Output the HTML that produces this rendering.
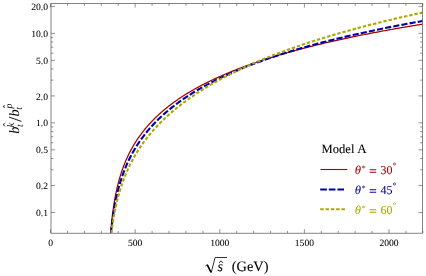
<!DOCTYPE html>
<html><head><meta charset="utf-8"><title>plot</title>
<style>html,body{margin:0;padding:0;background:#fff}svg{display:block}text{font-family:"Liberation Serif",serif}</style></head>
<body>
<svg width="426" height="276" viewBox="0 0 426 276" text-rendering="geometricPrecision">
<rect width="426" height="276" fill="#fff"/>
<defs><filter id="bl" x="-5%" y="-5%" width="110%" height="110%"><feGaussianBlur stdDeviation="0.35"/></filter></defs>
<defs><clipPath id="c"><rect x="51.0" y="3.55" width="371.50" height="229.65"/></clipPath></defs>
<g filter="url(#bl)">
<g clip-path="url(#c)" fill="none">
<path d="M110.50,235.19 L110.60,233.87 L110.70,232.59 L110.80,231.34 L110.90,230.14 L111.00,228.97 L111.10,227.83 L111.20,226.73 L111.30,225.65 L111.40,224.60 L111.50,223.58 L111.60,222.58 L111.70,221.61 L111.80,220.66 L111.90,219.73 L112.00,218.82 L112.10,217.93 L112.20,217.06 L112.30,216.21 L112.40,215.37 L112.50,214.55 L112.60,213.75 L112.70,212.96 L112.80,212.19 L112.90,211.43 L113.00,210.69 L113.10,209.96 L113.20,209.24 L113.30,208.53 L113.40,207.84 L113.50,207.15 L113.60,206.48 L113.70,205.82 L113.80,205.17 L113.90,204.52 L114.00,203.89 L114.10,203.27 L114.20,202.66 L114.30,202.05 L114.40,201.45 L114.50,200.87 L114.60,200.29 L114.70,199.72 L114.80,199.15 L114.90,198.59 L115.00,198.04 L115.10,197.50 L115.20,196.97 L115.30,196.44 L115.40,195.91 L115.50,195.40 L115.60,194.89 L115.70,194.38 L115.80,193.89 L115.90,193.39 L116.00,192.91 L116.10,192.43 L116.20,191.95 L116.30,191.48 L116.40,191.01 L116.50,190.55 L116.60,190.10 L116.70,189.65 L116.80,189.20 L116.90,188.76 L117.00,188.32 L117.10,187.89 L117.20,187.46 L117.30,187.04 L117.40,186.62 L117.50,186.20 L117.60,185.79 L117.70,185.38 L117.80,184.97 L117.90,184.57 L118.00,184.18 L118.10,183.78 L118.20,183.39 L118.30,183.01 L118.40,182.62 L118.50,182.24 L118.60,181.87 L118.70,181.49 L118.80,181.12 L118.90,180.75 L119.00,180.39 L119.10,180.03 L119.20,179.67 L119.30,179.32 L119.40,178.96 L119.50,178.61 L119.60,178.27 L119.70,177.92 L119.80,177.58 L119.90,177.24 L120.00,176.91 L120.10,176.57 L120.20,176.24 L120.30,175.91 L120.40,175.58 L120.50,175.26 L120.60,174.94 L120.70,174.62 L120.80,174.30 L120.90,173.99 L121.00,173.67 L121.10,173.36 L121.20,173.06 L121.30,172.75 L121.40,172.44 L121.50,172.14 L121.60,171.84 L121.70,171.54 L121.80,171.25 L121.90,170.95 L122.00,170.66 L122.10,170.37 L122.20,170.08 L122.30,169.80 L122.40,169.51 L122.50,169.23 L122.60,168.95 L122.70,168.67 L122.80,168.39 L122.90,168.11 L123.00,167.84 L123.10,167.56 L123.20,167.29 L123.30,167.02 L123.40,166.76 L123.50,166.49 L123.60,166.22 L123.70,165.96 L123.80,165.70 L123.90,165.44 L124.00,165.18 L124.10,164.92 L124.20,164.67 L124.30,164.41 L124.40,164.16 L124.50,163.91 L124.60,163.66 L124.70,163.41 L124.80,163.16 L124.90,162.91 L125.00,162.67 L125.38,161.76 L125.75,160.87 L126.12,160.00 L126.50,159.14 L126.88,158.30 L127.25,157.47 L127.62,156.66 L128.00,155.86 L128.38,155.08 L128.75,154.30 L129.12,153.54 L129.50,152.80 L129.88,152.06 L130.25,151.34 L130.62,150.62 L131.00,149.92 L131.38,149.23 L131.75,148.54 L132.12,147.87 L132.50,147.21 L132.88,146.55 L133.25,145.90 L133.62,145.27 L134.00,144.64 L134.38,144.02 L134.75,143.40 L135.12,142.80 L135.50,142.20 L135.88,141.61 L136.25,141.02 L136.62,140.45 L137.00,139.88 L137.38,139.31 L137.75,138.76 L138.12,138.21 L138.50,137.66 L138.88,137.12 L139.25,136.59 L139.62,136.06 L140.00,135.54 L140.38,135.02 L140.75,134.51 L141.12,134.01 L141.50,133.51 L141.88,133.01 L142.25,132.52 L142.62,132.03 L143.00,131.55 L143.38,131.08 L143.75,130.60 L144.12,130.14 L144.50,129.67 L144.88,129.21 L145.25,128.76 L145.62,128.31 L146.00,127.86 L146.38,127.42 L146.75,126.98 L147.12,126.54 L147.50,126.11 L147.88,125.68 L148.25,125.26 L148.62,124.84 L149.00,124.42 L149.38,124.00 L149.75,123.59 L150.12,123.19 L150.50,122.78 L150.88,122.38 L151.25,121.98 L151.62,121.59 L152.00,121.20 L152.38,120.81 L152.75,120.42 L153.12,120.04 L153.50,119.66 L153.88,119.28 L154.25,118.91 L154.62,118.53 L155.00,118.17 L155.38,117.80 L155.75,117.44 L156.12,117.07 L156.50,116.71 L156.88,116.36 L157.25,116.00 L157.62,115.65 L158.00,115.30 L158.38,114.96 L158.75,114.61 L159.12,114.27 L159.50,113.93 L159.88,113.59 L160.25,113.26 L160.62,112.92 L161.00,112.59 L161.38,112.26 L161.75,111.93 L162.12,111.61 L162.50,111.29 L162.88,110.96 L163.25,110.65 L163.62,110.33 L164.00,110.01 L164.38,109.70 L164.75,109.39 L165.12,109.08 L165.50,108.77 L165.88,108.46 L166.25,108.16 L166.62,107.86 L167.00,107.56 L167.38,107.26 L167.75,106.96 L168.12,106.66 L168.50,106.37 L168.88,106.08 L169.25,105.79 L169.62,105.50 L170.00,105.21 L171.16,104.33 L172.32,103.47 L173.47,102.62 L174.63,101.78 L175.79,100.96 L176.95,100.15 L178.10,99.35 L179.26,98.56 L180.42,97.79 L181.58,97.02 L182.73,96.27 L183.89,95.53 L185.05,94.80 L186.21,94.08 L187.36,93.36 L188.52,92.66 L189.68,91.97 L190.84,91.28 L191.99,90.60 L193.15,89.94 L194.31,89.28 L195.47,88.63 L196.62,87.98 L197.78,87.35 L198.94,86.72 L200.10,86.10 L201.25,85.48 L202.41,84.88 L203.57,84.28 L204.73,83.68 L205.88,83.10 L207.04,82.52 L208.20,81.94 L209.36,81.37 L210.51,80.81 L211.67,80.26 L212.83,79.71 L213.99,79.16 L215.14,78.62 L216.30,78.09 L217.46,77.56 L218.62,77.04 L219.77,76.52 L220.93,76.01 L222.09,75.50 L223.25,74.99 L224.40,74.50 L225.56,74.00 L226.72,73.51 L227.88,73.03 L229.03,72.55 L230.19,72.07 L231.35,71.60 L232.51,71.13 L233.66,70.67 L234.82,70.21 L235.98,69.75 L237.14,69.30 L238.29,68.85 L239.45,68.41 L240.61,67.97 L241.77,67.53 L242.92,67.10 L244.08,66.67 L245.24,66.24 L246.40,65.82 L247.55,65.40 L248.71,64.98 L249.87,64.57 L251.03,64.16 L252.18,63.75 L253.34,63.35 L254.50,62.95 L255.66,62.55 L256.82,62.16 L257.97,61.76 L259.13,61.38 L260.29,60.99 L261.45,60.61 L262.60,60.23 L263.76,59.85 L264.92,59.47 L266.08,59.10 L267.23,58.73 L268.39,58.37 L269.55,58.00 L270.71,57.64 L271.86,57.28 L273.02,56.92 L274.18,56.57 L275.34,56.22 L276.49,55.87 L277.65,55.52 L278.81,55.18 L279.97,54.83 L281.12,54.49 L282.28,54.16 L283.44,53.82 L284.60,53.49 L285.75,53.15 L286.91,52.82 L288.07,52.50 L289.23,52.17 L290.38,51.85 L291.54,51.53 L292.70,51.21 L293.86,50.89 L295.01,50.57 L296.17,50.26 L297.33,49.95 L298.49,49.64 L299.64,49.33 L300.80,49.03 L301.96,48.72 L303.12,48.42 L304.27,48.12 L305.43,47.82 L306.59,47.52 L307.75,47.23 L308.90,46.93 L310.06,46.64 L311.22,46.35 L312.38,46.06 L313.53,45.77 L314.69,45.49 L315.85,45.20 L317.01,44.92 L318.16,44.64 L319.32,44.36 L320.48,44.08 L321.64,43.81 L322.79,43.53 L323.95,43.26 L325.11,42.99 L326.27,42.72 L327.42,42.45 L328.58,42.18 L329.74,41.91 L330.90,41.65 L332.05,41.38 L333.21,41.12 L334.37,40.86 L335.53,40.60 L336.68,40.34 L337.84,40.09 L339.00,39.83 L340.16,39.58 L341.32,39.32 L342.47,39.07 L343.63,38.82 L344.79,38.57 L345.95,38.32 L347.10,38.08 L348.26,37.83 L349.42,37.59 L350.58,37.34 L351.73,37.10 L352.89,36.86 L354.05,36.62 L355.21,36.38 L356.36,36.15 L357.52,35.91 L358.68,35.67 L359.84,35.44 L360.99,35.21 L362.15,34.97 L363.31,34.74 L364.47,34.51 L365.62,34.28 L366.78,34.06 L367.94,33.83 L369.10,33.60 L370.25,33.38 L371.41,33.16 L372.57,32.93 L373.73,32.71 L374.88,32.49 L376.04,32.27 L377.20,32.05 L378.36,31.84 L379.51,31.62 L380.67,31.40 L381.83,31.19 L382.99,30.97 L384.14,30.76 L385.30,30.55 L386.46,30.34 L387.62,30.13 L388.77,29.92 L389.93,29.71 L391.09,29.50 L392.25,29.29 L393.40,29.09 L394.56,28.88 L395.72,28.68 L396.88,28.47 L398.03,28.27 L399.19,28.07 L400.35,27.87 L401.51,27.67 L402.66,27.47 L403.82,27.27 L404.98,27.07 L406.14,26.88 L407.29,26.68 L408.45,26.48 L409.61,26.29 L410.77,26.10 L411.92,25.90 L413.08,25.71 L414.24,25.52 L415.40,25.33 L416.55,25.14 L417.71,24.95 L418.87,24.76 L420.03,24.57 L421.18,24.38 L422.34,24.20 L423.50,24.01" stroke="#aa0000" stroke-width="1.25"/>
<path d="M110.70,235.70 L110.80,234.60 L110.90,233.53 L111.00,232.49 L111.10,231.47 L111.20,230.48 L111.30,229.51 L111.40,228.57 L111.50,227.64 L111.60,226.74 L111.70,225.85 L111.80,224.98 L111.90,224.13 L112.00,223.29 L112.10,222.48 L112.20,221.67 L112.30,220.89 L112.40,220.11 L112.50,219.35 L112.60,218.61 L112.70,217.87 L112.80,217.15 L112.90,216.44 L113.00,215.75 L113.10,215.06 L113.20,214.38 L113.30,213.72 L113.40,213.06 L113.50,212.42 L113.60,211.78 L113.70,211.16 L113.80,210.54 L113.90,209.93 L114.00,209.33 L114.10,208.74 L114.20,208.15 L114.30,207.57 L114.40,207.00 L114.50,206.44 L114.60,205.89 L114.70,205.34 L114.80,204.80 L114.90,204.26 L115.00,203.74 L115.10,203.21 L115.20,202.70 L115.30,202.19 L115.40,201.68 L115.50,201.18 L115.60,200.69 L115.70,200.20 L115.80,199.72 L115.90,199.24 L116.00,198.77 L116.10,198.30 L116.20,197.84 L116.30,197.38 L116.40,196.93 L116.50,196.48 L116.60,196.04 L116.70,195.60 L116.80,195.16 L116.90,194.73 L117.00,194.30 L117.10,193.88 L117.20,193.46 L117.30,193.05 L117.40,192.63 L117.50,192.23 L117.60,191.82 L117.70,191.42 L117.80,191.02 L117.90,190.63 L118.00,190.24 L118.10,189.85 L118.20,189.47 L118.30,189.09 L118.40,188.71 L118.50,188.33 L118.60,187.96 L118.70,187.59 L118.80,187.23 L118.90,186.86 L119.00,186.50 L119.10,186.15 L119.20,185.79 L119.30,185.44 L119.40,185.09 L119.50,184.74 L119.60,184.40 L119.70,184.06 L119.80,183.72 L119.90,183.38 L120.00,183.05 L120.10,182.72 L120.20,182.39 L120.30,182.06 L120.40,181.73 L120.50,181.41 L120.60,181.09 L120.70,180.77 L120.80,180.46 L120.90,180.14 L121.00,179.83 L121.10,179.52 L121.20,179.21 L121.30,178.91 L121.40,178.60 L121.50,178.30 L121.60,178.00 L121.70,177.70 L121.80,177.40 L121.90,177.11 L122.00,176.82 L122.10,176.52 L122.20,176.24 L122.30,175.95 L122.40,175.66 L122.50,175.38 L122.60,175.10 L122.70,174.81 L122.80,174.54 L122.90,174.26 L123.00,173.98 L123.10,173.71 L123.20,173.43 L123.30,173.16 L123.40,172.89 L123.50,172.62 L123.60,172.36 L123.70,172.09 L123.80,171.83 L123.90,171.57 L124.00,171.30 L124.10,171.04 L124.20,170.79 L124.30,170.53 L124.40,170.27 L124.50,170.02 L124.60,169.77 L124.70,169.51 L124.80,169.26 L124.90,169.01 L125.00,168.77 L125.38,167.85 L125.75,166.95 L126.12,166.06 L126.50,165.19 L126.88,164.33 L127.25,163.49 L127.62,162.67 L128.00,161.85 L128.38,161.05 L128.75,160.26 L129.12,159.49 L129.50,158.72 L129.88,157.97 L130.25,157.23 L130.62,156.50 L131.00,155.78 L131.38,155.07 L131.75,154.37 L132.12,153.67 L132.50,152.99 L132.88,152.32 L133.25,151.65 L133.62,151.00 L134.00,150.35 L134.38,149.71 L134.75,149.07 L135.12,148.45 L135.50,147.83 L135.88,147.22 L136.25,146.62 L136.62,146.02 L137.00,145.43 L137.38,144.84 L137.75,144.27 L138.12,143.70 L138.50,143.13 L138.88,142.57 L139.25,142.02 L139.62,141.47 L140.00,140.93 L140.38,140.39 L140.75,139.86 L141.12,139.33 L141.50,138.81 L141.88,138.29 L142.25,137.78 L142.62,137.28 L143.00,136.77 L143.38,136.28 L143.75,135.78 L144.12,135.29 L144.50,134.81 L144.88,134.33 L145.25,133.85 L145.62,133.38 L146.00,132.92 L146.38,132.45 L146.75,131.99 L147.12,131.54 L147.50,131.08 L147.88,130.63 L148.25,130.19 L148.62,129.75 L149.00,129.31 L149.38,128.88 L149.75,128.44 L150.12,128.02 L150.50,127.59 L150.88,127.17 L151.25,126.75 L151.62,126.34 L152.00,125.92 L152.38,125.52 L152.75,125.11 L153.12,124.71 L153.50,124.31 L153.88,123.91 L154.25,123.51 L154.62,123.12 L155.00,122.73 L155.38,122.35 L155.75,121.96 L156.12,121.58 L156.50,121.20 L156.88,120.82 L157.25,120.45 L157.62,120.08 L158.00,119.71 L158.38,119.34 L158.75,118.98 L159.12,118.62 L159.50,118.26 L159.88,117.90 L160.25,117.55 L160.62,117.19 L161.00,116.84 L161.38,116.49 L161.75,116.15 L162.12,115.80 L162.50,115.46 L162.88,115.12 L163.25,114.78 L163.62,114.44 L164.00,114.11 L164.38,113.78 L164.75,113.45 L165.12,113.12 L165.50,112.79 L165.88,112.47 L166.25,112.14 L166.62,111.82 L167.00,111.50 L167.38,111.19 L167.75,110.87 L168.12,110.55 L168.50,110.24 L168.88,109.93 L169.25,109.62 L169.62,109.31 L170.00,109.01 L171.16,108.07 L172.32,107.15 L173.47,106.25 L174.63,105.36 L175.79,104.48 L176.95,103.62 L178.10,102.76 L179.26,101.92 L180.42,101.10 L181.58,100.28 L182.73,99.47 L183.89,98.68 L185.05,97.90 L186.21,97.12 L187.36,96.36 L188.52,95.61 L189.68,94.86 L190.84,94.13 L191.99,93.40 L193.15,92.69 L194.31,91.98 L195.47,91.28 L196.62,90.59 L197.78,89.90 L198.94,89.23 L200.10,88.56 L201.25,87.90 L202.41,87.25 L203.57,86.60 L204.73,85.96 L205.88,85.33 L207.04,84.70 L208.20,84.09 L209.36,83.47 L210.51,82.87 L211.67,82.27 L212.83,81.67 L213.99,81.09 L215.14,80.50 L216.30,79.93 L217.46,79.36 L218.62,78.79 L219.77,78.23 L220.93,77.68 L222.09,77.13 L223.25,76.58 L224.40,76.04 L225.56,75.51 L226.72,74.98 L227.88,74.45 L229.03,73.93 L230.19,73.42 L231.35,72.91 L232.51,72.40 L233.66,71.90 L234.82,71.40 L235.98,70.90 L237.14,70.41 L238.29,69.93 L239.45,69.45 L240.61,68.97 L241.77,68.49 L242.92,68.02 L244.08,67.56 L245.24,67.09 L246.40,66.64 L247.55,66.18 L248.71,65.73 L249.87,65.28 L251.03,64.83 L252.18,64.39 L253.34,63.95 L254.50,63.52 L255.66,63.09 L256.82,62.66 L257.97,62.23 L259.13,61.81 L260.29,61.39 L261.45,60.97 L262.60,60.56 L263.76,60.15 L264.92,59.74 L266.08,59.33 L267.23,58.93 L268.39,58.53 L269.55,58.13 L270.71,57.74 L271.86,57.35 L273.02,56.96 L274.18,56.57 L275.34,56.19 L276.49,55.81 L277.65,55.43 L278.81,55.05 L279.97,54.68 L281.12,54.31 L282.28,53.94 L283.44,53.57 L284.60,53.21 L285.75,52.85 L286.91,52.49 L288.07,52.13 L289.23,51.77 L290.38,51.42 L291.54,51.07 L292.70,50.72 L293.86,50.37 L295.01,50.03 L296.17,49.69 L297.33,49.35 L298.49,49.01 L299.64,48.67 L300.80,48.33 L301.96,48.00 L303.12,47.67 L304.27,47.34 L305.43,47.01 L306.59,46.69 L307.75,46.37 L308.90,46.04 L310.06,45.72 L311.22,45.41 L312.38,45.09 L313.53,44.78 L314.69,44.46 L315.85,44.15 L317.01,43.84 L318.16,43.53 L319.32,43.23 L320.48,42.92 L321.64,42.62 L322.79,42.32 L323.95,42.02 L325.11,41.72 L326.27,41.43 L327.42,41.13 L328.58,40.84 L329.74,40.54 L330.90,40.25 L332.05,39.97 L333.21,39.68 L334.37,39.39 L335.53,39.11 L336.68,38.82 L337.84,38.54 L339.00,38.26 L340.16,37.98 L341.32,37.70 L342.47,37.43 L343.63,37.15 L344.79,36.88 L345.95,36.61 L347.10,36.34 L348.26,36.07 L349.42,35.80 L350.58,35.53 L351.73,35.26 L352.89,35.00 L354.05,34.74 L355.21,34.47 L356.36,34.21 L357.52,33.95 L358.68,33.70 L359.84,33.44 L360.99,33.18 L362.15,32.93 L363.31,32.67 L364.47,32.42 L365.62,32.17 L366.78,31.92 L367.94,31.67 L369.10,31.42 L370.25,31.17 L371.41,30.93 L372.57,30.68 L373.73,30.44 L374.88,30.19 L376.04,29.95 L377.20,29.71 L378.36,29.47 L379.51,29.23 L380.67,29.00 L381.83,28.76 L382.99,28.52 L384.14,28.29 L385.30,28.05 L386.46,27.82 L387.62,27.59 L388.77,27.36 L389.93,27.13 L391.09,26.90 L392.25,26.67 L393.40,26.45 L394.56,26.22 L395.72,25.99 L396.88,25.77 L398.03,25.55 L399.19,25.32 L400.35,25.10 L401.51,24.88 L402.66,24.66 L403.82,24.44 L404.98,24.22 L406.14,24.01 L407.29,23.79 L408.45,23.57 L409.61,23.36 L410.77,23.15 L411.92,22.93 L413.08,22.72 L414.24,22.51 L415.40,22.30 L416.55,22.09 L417.71,21.88 L418.87,21.67 L420.03,21.46 L421.18,21.26 L422.34,21.05 L423.50,20.85" stroke="#0000aa" stroke-width="2.1" stroke-dasharray="6.2 2.1" stroke-dashoffset="5.61"/>
<path d="M111.10,235.88 L111.20,235.00 L111.30,234.14 L111.40,233.30 L111.50,232.47 L111.60,231.65 L111.70,230.85 L111.80,230.07 L111.90,229.30 L112.00,228.54 L112.10,227.80 L112.20,227.07 L112.30,226.35 L112.40,225.64 L112.50,224.94 L112.60,224.25 L112.70,223.58 L112.80,222.91 L112.90,222.26 L113.00,221.61 L113.10,220.97 L113.20,220.35 L113.30,219.73 L113.40,219.12 L113.50,218.51 L113.60,217.92 L113.70,217.33 L113.80,216.75 L113.90,216.18 L114.00,215.62 L114.10,215.06 L114.20,214.51 L114.30,213.96 L114.40,213.43 L114.50,212.89 L114.60,212.37 L114.70,211.85 L114.80,211.33 L114.90,210.83 L115.00,210.32 L115.10,209.83 L115.20,209.33 L115.30,208.85 L115.40,208.37 L115.50,207.89 L115.60,207.42 L115.70,206.95 L115.80,206.49 L115.90,206.03 L116.00,205.58 L116.10,205.13 L116.20,204.68 L116.30,204.24 L116.40,203.80 L116.50,203.37 L116.60,202.94 L116.70,202.52 L116.80,202.10 L116.90,201.68 L117.00,201.27 L117.10,200.85 L117.20,200.45 L117.30,200.04 L117.40,199.65 L117.50,199.25 L117.60,198.86 L117.70,198.46 L117.80,198.08 L117.90,197.69 L118.00,197.31 L118.10,196.94 L118.20,196.56 L118.30,196.19 L118.40,195.82 L118.50,195.45 L118.60,195.09 L118.70,194.73 L118.80,194.37 L118.90,194.01 L119.00,193.66 L119.10,193.31 L119.20,192.96 L119.30,192.62 L119.40,192.27 L119.50,191.93 L119.60,191.59 L119.70,191.26 L119.80,190.92 L119.90,190.59 L120.00,190.26 L120.10,189.93 L120.20,189.61 L120.30,189.28 L120.40,188.96 L120.50,188.64 L120.60,188.33 L120.70,188.01 L120.80,187.70 L120.90,187.39 L121.00,187.08 L121.10,186.77 L121.20,186.47 L121.30,186.16 L121.40,185.86 L121.50,185.56 L121.60,185.26 L121.70,184.97 L121.80,184.67 L121.90,184.38 L122.00,184.09 L122.10,183.80 L122.20,183.51 L122.30,183.22 L122.40,182.94 L122.50,182.65 L122.60,182.37 L122.70,182.09 L122.80,181.81 L122.90,181.54 L123.00,181.26 L123.10,180.99 L123.20,180.71 L123.30,180.44 L123.40,180.17 L123.50,179.90 L123.60,179.64 L123.70,179.37 L123.80,179.11 L123.90,178.84 L124.00,178.58 L124.10,178.32 L124.20,178.06 L124.30,177.80 L124.40,177.55 L124.50,177.29 L124.60,177.04 L124.70,176.78 L124.80,176.53 L124.90,176.28 L125.00,176.03 L125.38,175.11 L125.75,174.20 L126.12,173.31 L126.50,172.43 L126.88,171.56 L127.25,170.71 L127.62,169.87 L128.00,169.05 L128.38,168.24 L128.75,167.43 L129.12,166.65 L129.50,165.87 L129.88,165.10 L130.25,164.34 L130.62,163.60 L131.00,162.86 L131.38,162.13 L131.75,161.41 L132.12,160.71 L132.50,160.01 L132.88,159.31 L133.25,158.63 L133.62,157.96 L134.00,157.29 L134.38,156.63 L134.75,155.98 L135.12,155.33 L135.50,154.69 L135.88,154.06 L136.25,153.44 L136.62,152.82 L137.00,152.21 L137.38,151.61 L137.75,151.01 L138.12,150.41 L138.50,149.83 L138.88,149.25 L139.25,148.67 L139.62,148.10 L140.00,147.54 L140.38,146.98 L140.75,146.42 L141.12,145.87 L141.50,145.33 L141.88,144.79 L142.25,144.26 L142.62,143.73 L143.00,143.20 L143.38,142.68 L143.75,142.17 L144.12,141.65 L144.50,141.15 L144.88,140.64 L145.25,140.14 L145.62,139.65 L146.00,139.16 L146.38,138.67 L146.75,138.19 L147.12,137.71 L147.50,137.23 L147.88,136.76 L148.25,136.29 L148.62,135.82 L149.00,135.36 L149.38,134.90 L149.75,134.44 L150.12,133.99 L150.50,133.54 L150.88,133.10 L151.25,132.65 L151.62,132.21 L152.00,131.78 L152.38,131.34 L152.75,130.91 L153.12,130.48 L153.50,130.06 L153.88,129.64 L154.25,129.22 L154.62,128.80 L155.00,128.39 L155.38,127.97 L155.75,127.57 L156.12,127.16 L156.50,126.76 L156.88,126.35 L157.25,125.96 L157.62,125.56 L158.00,125.17 L158.38,124.77 L158.75,124.38 L159.12,124.00 L159.50,123.61 L159.88,123.23 L160.25,122.85 L160.62,122.47 L161.00,122.10 L161.38,121.72 L161.75,121.35 L162.12,120.98 L162.50,120.61 L162.88,120.25 L163.25,119.88 L163.62,119.52 L164.00,119.16 L164.38,118.80 L164.75,118.45 L165.12,118.09 L165.50,117.74 L165.88,117.39 L166.25,117.04 L166.62,116.70 L167.00,116.35 L167.38,116.01 L167.75,115.67 L168.12,115.33 L168.50,114.99 L168.88,114.66 L169.25,114.32 L169.62,113.99 L170.00,113.66 L171.16,112.64 L172.32,111.65 L173.47,110.66 L174.63,109.70 L175.79,108.74 L176.95,107.80 L178.10,106.87 L179.26,105.95 L180.42,105.05 L181.58,104.15 L182.73,103.27 L183.89,102.40 L185.05,101.54 L186.21,100.69 L187.36,99.85 L188.52,99.02 L189.68,98.20 L190.84,97.39 L191.99,96.59 L193.15,95.80 L194.31,95.02 L195.47,94.24 L196.62,93.47 L197.78,92.72 L198.94,91.97 L200.10,91.22 L201.25,90.49 L202.41,89.76 L203.57,89.04 L204.73,88.33 L205.88,87.62 L207.04,86.93 L208.20,86.23 L209.36,85.55 L210.51,84.87 L211.67,84.20 L212.83,83.53 L213.99,82.87 L215.14,82.22 L216.30,81.57 L217.46,80.93 L218.62,80.29 L219.77,79.66 L220.93,79.03 L222.09,78.41 L223.25,77.80 L224.40,77.19 L225.56,76.58 L226.72,75.98 L227.88,75.39 L229.03,74.80 L230.19,74.21 L231.35,73.63 L232.51,73.06 L233.66,72.49 L234.82,71.92 L235.98,71.36 L237.14,70.80 L238.29,70.24 L239.45,69.69 L240.61,69.15 L241.77,68.61 L242.92,68.07 L244.08,67.54 L245.24,67.01 L246.40,66.48 L247.55,65.96 L248.71,65.44 L249.87,64.92 L251.03,64.41 L252.18,63.90 L253.34,63.40 L254.50,62.90 L255.66,62.40 L256.82,61.91 L257.97,61.42 L259.13,60.93 L260.29,60.45 L261.45,59.96 L262.60,59.49 L263.76,59.01 L264.92,58.54 L266.08,58.07 L267.23,57.61 L268.39,57.14 L269.55,56.68 L270.71,56.23 L271.86,55.77 L273.02,55.32 L274.18,54.87 L275.34,54.42 L276.49,53.98 L277.65,53.54 L278.81,53.10 L279.97,52.67 L281.12,52.24 L282.28,51.80 L283.44,51.38 L284.60,50.95 L285.75,50.53 L286.91,50.11 L288.07,49.69 L289.23,49.28 L290.38,48.86 L291.54,48.45 L292.70,48.04 L293.86,47.64 L295.01,47.23 L296.17,46.83 L297.33,46.43 L298.49,46.03 L299.64,45.64 L300.80,45.24 L301.96,44.85 L303.12,44.46 L304.27,44.08 L305.43,43.69 L306.59,43.31 L307.75,42.93 L308.90,42.55 L310.06,42.17 L311.22,41.80 L312.38,41.42 L313.53,41.05 L314.69,40.68 L315.85,40.31 L317.01,39.95 L318.16,39.58 L319.32,39.22 L320.48,38.86 L321.64,38.50 L322.79,38.15 L323.95,37.79 L325.11,37.44 L326.27,37.09 L327.42,36.74 L328.58,36.39 L329.74,36.04 L330.90,35.70 L332.05,35.35 L333.21,35.01 L334.37,34.67 L335.53,34.33 L336.68,33.99 L337.84,33.66 L339.00,33.33 L340.16,32.99 L341.32,32.66 L342.47,32.33 L343.63,32.00 L344.79,31.68 L345.95,31.35 L347.10,31.03 L348.26,30.71 L349.42,30.39 L350.58,30.07 L351.73,29.75 L352.89,29.43 L354.05,29.12 L355.21,28.80 L356.36,28.49 L357.52,28.18 L358.68,27.87 L359.84,27.56 L360.99,27.25 L362.15,26.95 L363.31,26.64 L364.47,26.34 L365.62,26.04 L366.78,25.74 L367.94,25.44 L369.10,25.14 L370.25,24.84 L371.41,24.55 L372.57,24.25 L373.73,23.96 L374.88,23.67 L376.04,23.38 L377.20,23.09 L378.36,22.80 L379.51,22.51 L380.67,22.22 L381.83,21.94 L382.99,21.65 L384.14,21.37 L385.30,21.09 L386.46,20.81 L387.62,20.53 L388.77,20.25 L389.93,19.97 L391.09,19.69 L392.25,19.42 L393.40,19.14 L394.56,18.87 L395.72,18.60 L396.88,18.33 L398.03,18.06 L399.19,17.79 L400.35,17.52 L401.51,17.25 L402.66,16.98 L403.82,16.72 L404.98,16.45 L406.14,16.19 L407.29,15.93 L408.45,15.67 L409.61,15.41 L410.77,15.15 L411.92,14.89 L413.08,14.63 L414.24,14.37 L415.40,14.12 L416.55,13.86 L417.71,13.61 L418.87,13.35 L420.03,13.10 L421.18,12.85 L422.34,12.60 L423.50,12.35" stroke="#aaaa00" stroke-width="2.1" stroke-dasharray="3.4 1.9" stroke-dashoffset="2.55"/>
</g>
<path d="M50.60,233.2 v-4.0 M50.60,3.55 v4.0 M67.52,233.2 v-2.3 M67.52,3.55 v2.3 M84.44,233.2 v-2.3 M84.44,3.55 v2.3 M101.36,233.2 v-2.3 M101.36,3.55 v2.3 M118.28,233.2 v-2.3 M118.28,3.55 v2.3 M135.20,233.2 v-4.0 M135.20,3.55 v4.0 M152.12,233.2 v-2.3 M152.12,3.55 v2.3 M169.04,233.2 v-2.3 M169.04,3.55 v2.3 M185.96,233.2 v-2.3 M185.96,3.55 v2.3 M202.88,233.2 v-2.3 M202.88,3.55 v2.3 M219.80,233.2 v-4.0 M219.80,3.55 v4.0 M236.72,233.2 v-2.3 M236.72,3.55 v2.3 M253.64,233.2 v-2.3 M253.64,3.55 v2.3 M270.56,233.2 v-2.3 M270.56,3.55 v2.3 M287.48,233.2 v-2.3 M287.48,3.55 v2.3 M304.40,233.2 v-4.0 M304.40,3.55 v4.0 M321.32,233.2 v-2.3 M321.32,3.55 v2.3 M338.24,233.2 v-2.3 M338.24,3.55 v2.3 M355.16,233.2 v-2.3 M355.16,3.55 v2.3 M372.08,233.2 v-2.3 M372.08,3.55 v2.3 M389.00,233.2 v-4.0 M389.00,3.55 v4.0 M405.92,233.2 v-2.3 M405.92,3.55 v2.3 M422.84,233.2 v-2.3 M422.84,3.55 v2.3 M51.0,212.46 h4.0 M422.5,212.46 h-4.0 M51.0,185.49 h4.0 M422.5,185.49 h-4.0 M51.0,149.85 h4.0 M422.5,149.85 h-4.0 M51.0,122.88 h4.0 M422.5,122.88 h-4.0 M51.0,95.91 h4.0 M422.5,95.91 h-4.0 M51.0,60.27 h4.0 M422.5,60.27 h-4.0 M51.0,33.30 h4.0 M422.5,33.30 h-4.0 M51.0,6.33 h4.0 M422.5,6.33 h-4.0 M51.0,169.72 h2.3 M422.5,169.72 h-2.3 M51.0,158.53 h2.3 M422.5,158.53 h-2.3 M51.0,142.75 h2.3 M422.5,142.75 h-2.3 M51.0,136.76 h2.3 M422.5,136.76 h-2.3 M51.0,131.56 h2.3 M422.5,131.56 h-2.3 M51.0,126.98 h2.3 M422.5,126.98 h-2.3 M51.0,80.14 h2.3 M422.5,80.14 h-2.3 M51.0,68.95 h2.3 M422.5,68.95 h-2.3 M51.0,53.17 h2.3 M422.5,53.17 h-2.3 M51.0,47.18 h2.3 M422.5,47.18 h-2.3 M51.0,41.98 h2.3 M422.5,41.98 h-2.3 M51.0,37.40 h2.3 M422.5,37.40 h-2.3" stroke="#484848" stroke-width="0.6" fill="none"/>
<rect x="51.0" y="3.55" width="371.50" height="229.65" fill="none" stroke="#505050" stroke-width="0.7"/>
<g font-size="9.6" fill="#000" stroke="#000" stroke-width="0.06">
<text x="50.60" y="245.8" text-anchor="middle">0</text>
<text x="135.20" y="245.8" text-anchor="middle">500</text>
<text x="219.80" y="245.8" text-anchor="middle">1000</text>
<text x="304.40" y="245.8" text-anchor="middle">1500</text>
<text x="389.00" y="245.8" text-anchor="middle">2000</text>
<text x="48.0" y="216.06" text-anchor="end">0.1</text>
<text x="48.0" y="189.09" text-anchor="end">0.2</text>
<text x="48.0" y="153.45" text-anchor="end">0.5</text>
<text x="48.0" y="126.48" text-anchor="end">1.0</text>
<text x="48.0" y="99.51" text-anchor="end">2.0</text>
<text x="48.0" y="63.87" text-anchor="end">5.0</text>
<text x="48.0" y="36.90" text-anchor="end">10.0</text>
<text x="48.0" y="9.93" text-anchor="end">20.0</text>
</g>
<g font-size="14" fill="#000" stroke="#000" stroke-width="0.08">
<text x="231.8" y="270.9" font-size="14.4">(GeV)</text>
<text x="217.4" y="270.8" font-style="italic">s</text>
<path d="M219.0,263.0 L221.0,260.8 L223.0,263.0" fill="none" stroke="#000" stroke-width="0.8"/>
<path d="M205.5,265.9 L207.3,264.6 L211.2,272.7 L215.1,257.5 L227.0,257.5" fill="none" stroke="#000" stroke-width="0.8"/>
<path d="M207.3,264.9 L210.9,272.2" fill="none" stroke="#000" stroke-width="1.5"/>
</g>
<g transform="translate(18.8,133.5) rotate(-90)" font-style="italic" fill="#000">
<text x="-0.2" y="0" font-size="14.2">b</text>
<text x="6.2" y="-5.3" font-size="10.2">k</text>
<path d="M7.4,-13.5 L8.85,-15.8 L10.3,-13.5" fill="none" stroke="#000" stroke-width="0.7"/>
<text x="6.5" y="4.1" font-size="9.6">t</text>
<path d="M12.1,2.6 L16.4,-9.7" fill="none" stroke="#000" stroke-width="0.9"/>
<text x="17.0" y="0" font-size="14.2">b</text>
<text x="24.9" y="-6.7" font-size="9.8">p</text>
<path d="M25.9,-13.7 L27.0,-15.8 L28.1,-13.7" fill="none" stroke="#000" stroke-width="0.7"/>
<text x="23.8" y="3.3" font-size="9.6">t</text>
</g>
<g font-size="12">
<text x="321.5" y="152.9" fill="#000" stroke="#000" stroke-width="0.08" font-size="12.6">Model</text>
<text x="357.2" y="152.9" fill="#000" stroke="#000" stroke-width="0.08" font-size="13.0">A</text>
<path d="M320.5,169.5 H347.4" stroke="#aa0000" stroke-width="1.1"/>
<text x="354.7" y="174.4" fill="#aa0000" font-style="italic" textLength="6.3" lengthAdjust="spacingAndGlyphs">θ</text>
<text x="361.5" y="171.1" fill="#aa0000" font-size="8.5">*</text>
<text x="369.3" y="175.4" fill="#aa0000" stroke="#aa0000" stroke-width="0.3" textLength="7.4" lengthAdjust="spacingAndGlyphs">=</text>
<text x="380.6" y="174.4" fill="#aa0000" stroke="#aa0000" stroke-width="0.08">30</text>
<circle cx="394.5" cy="164.0" r="1.05" fill="none" stroke="#aa0000" stroke-width="0.7"/>
<path d="M320.2,189.5 H344.0" stroke="#0000aa" stroke-width="2" stroke-dasharray="6.7 1.9"/>
<text x="354.7" y="194.4" fill="#0000aa" font-style="italic" textLength="6.3" lengthAdjust="spacingAndGlyphs">θ</text>
<text x="361.5" y="191.1" fill="#0000aa" font-size="8.5">*</text>
<text x="369.3" y="195.4" fill="#0000aa" stroke="#0000aa" stroke-width="0.3" textLength="7.4" lengthAdjust="spacingAndGlyphs">=</text>
<text x="380.6" y="194.4" fill="#0000aa" stroke="#0000aa" stroke-width="0.08">45</text>
<circle cx="394.5" cy="184.0" r="1.05" fill="none" stroke="#0000aa" stroke-width="0.7"/>
<path d="M320.2,209.2 H344.9" stroke="#aaaa00" stroke-width="2" stroke-dasharray="3.5 1.8"/>
<text x="354.7" y="214.1" fill="#aaaa00" font-style="italic" textLength="6.3" lengthAdjust="spacingAndGlyphs">θ</text>
<text x="361.5" y="210.8" fill="#aaaa00" font-size="8.5">*</text>
<text x="369.3" y="215.1" fill="#aaaa00" stroke="#aaaa00" stroke-width="0.3" textLength="7.4" lengthAdjust="spacingAndGlyphs">=</text>
<text x="380.6" y="214.1" fill="#aaaa00" stroke="#aaaa00" stroke-width="0.08">60</text>
<circle cx="394.5" cy="203.7" r="1.05" fill="none" stroke="#aaaa00" stroke-width="0.7"/>
</g>
</g>
</svg>
</body></html>
